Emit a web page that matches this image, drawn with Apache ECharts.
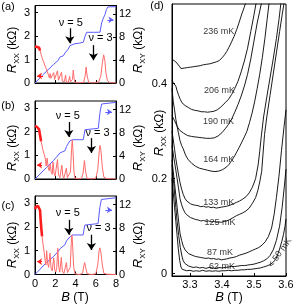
<!DOCTYPE html>
<html><head><meta charset="utf-8">
<script src="https://cdn.jsdelivr.net/npm/echarts@6/dist/echarts.min.js"></script>
<style>html,body{margin:0;padding:0;background:#fff}#c{width:299px;height:304px}</style>
</head><body><div id="c"></div><script>
// ---------- tick values ----------
const bTicks = [0, 2, 4, 6, 8];
const rxxTicks = [0, 1, 2, 3];
const rxyTicks = [0, 4, 8, 12];
const dXTicks = [3.3, 3.4, 3.5, 3.6];
const dYTicks = [0, 0.2, 0.4];

// ---------- panel (a) ----------
const rxxThickA = [[0,1.55],[0.1,1.56],[0.2,1.54],[0.3,1.55],[0.4,1.5],[0.5,1.38]];
const rxxA = [[0.5,1.38],[0.6,1.22],[0.7,1.08],[0.8,0.95],[0.9,0.85],[1.0,0.72],[1.1,0.62],[1.2,0.5],[1.3,0.38],[1.35,0.3],[1.42,0.22],[1.5,0.4],[1.56,0.2],[1.65,0.12],[1.75,0.18],[1.85,0.44],[1.93,0.15],[2.0,0.08],[2.1,0.1],[2.22,0.52],[2.32,0.12],[2.4,0.05],[2.5,0.06],[2.62,0.46],[2.7,0.08],[2.8,0.03],[2.9,0.05],[3.02,0.34],[3.1,0.04],[3.2,0.02],[3.3,0.04],[3.42,0.28],[3.5,0.05],[3.6,0.02],[3.7,0.15],[3.78,0.55],[3.86,0.2],[3.95,0.02],[4.2,0.0],[4.5,0.01],[4.8,0.03],[4.95,0.3],[5.05,0.68],[5.15,0.3],[5.3,0.03],[5.6,0.0],[6.0,0.01],[6.3,0.05],[6.5,0.3],[6.65,0.85],[6.78,1.2],[6.9,0.95],[7.0,0.45],[7.15,0.1],[7.4,0.01],[8,0.0]];
const rxyA = [[0,0],[0.79,1.45],[1.81,3.19],[2.3,3.95],[2.45,4.5],[2.63,4.65],[2.8,4.75],[2.96,5.23],[3.12,5.3],[3.29,5.92],[3.45,6.5],[3.62,6.67],[3.95,6.85],[4.4,6.95],[4.77,7.09],[4.94,8.13],[5.1,8.83],[5.8,8.83],[6.42,8.85],[6.58,10.45],[6.75,11.3],[6.91,11.9],[7.05,12.8],[7.2,13.25],[8,13.3]];

// ---------- panel (b) ----------
const rxxThickB = [[0,2.25],[0.1,2.28],[0.2,2.2],[0.3,2.25],[0.4,2.1],[0.5,1.85],[0.6,1.6]];
const rxxB = [[0.6,1.6],[0.7,1.4],[0.8,1.2],[0.9,1.05],[1.0,0.9],[1.05,0.75],[1.1,0.55],[1.2,0.88],[1.3,0.5],[1.4,0.35],[1.5,0.62],[1.6,0.3],[1.7,0.2],[1.78,0.72],[1.88,0.25],[1.98,0.12],[2.1,0.2],[2.22,0.82],[2.32,0.2],[2.45,0.06],[2.55,0.1],[2.65,0.58],[2.75,0.12],[2.85,0.03],[3.0,0.05],[3.1,0.46],[3.2,0.06],[3.35,0.03],[3.5,0.3],[3.62,1.3],[3.68,1.65],[3.75,1.2],[3.85,0.3],[3.95,0.03],[4.3,0.0],[4.6,0.02],[4.75,0.25],[4.88,0.78],[5.0,0.3],[5.15,0.02],[5.6,0.0],[6.0,0.03],[6.2,0.4],[6.35,1.2],[6.42,1.42],[6.5,1.25],[6.65,0.5],[6.8,0.08],[7.1,0.01],[8,0.0]];
const rxyB = [[0,0],[1.15,2.02],[1.81,3.17],[2.3,4.15],[2.45,4.5],[2.63,4.62],[2.96,4.9],[3.12,5.65],[3.3,6.2],[3.46,6.63],[3.71,6.8],[4.77,6.8],[4.94,8.53],[5.1,8.77],[6.25,8.77],[6.42,11.54],[6.58,12.98],[6.75,13.27],[8,13.27]];

// ---------- panel (c) ----------
const rxxThickC = [[0,2.75],[0.1,2.85],[0.2,2.9],[0.3,2.88],[0.4,2.9],[0.5,2.7],[0.55,2.35],[0.62,1.95],[0.7,1.6]];
const rxxC = [[0.7,1.6],[0.8,1.25],[0.9,0.95],[1.0,0.6],[1.07,0.4],[1.15,1.0],[1.25,0.45],[1.35,0.3],[1.48,0.9],[1.58,0.3],[1.7,0.15],[1.85,0.7],[1.95,0.2],[2.05,0.1],[2.15,0.3],[2.25,1.1],[2.35,0.3],[2.45,0.1],[2.52,0.15],[2.6,0.72],[2.7,0.15],[2.85,0.04],[3.0,0.1],[3.1,0.5],[3.2,0.08],[3.35,0.03],[3.48,0.3],[3.58,1.3],[3.65,1.66],[3.72,1.2],[3.82,0.3],[3.95,0.03],[4.4,0.0],[4.7,0.05],[4.82,0.35],[4.9,0.5],[5.0,0.3],[5.15,0.03],[5.6,0.0],[6.0,0.03],[6.2,0.4],[6.33,1.0],[6.4,1.12],[6.5,0.95],[6.65,0.4],[6.8,0.05],[7.1,0.01],[8,0.0]];
const rxyC = [[0,0],[1.14,2.08],[1.8,3.04],[2.29,3.96],[2.45,4.4],[2.62,4.53],[2.95,5.1],[3.11,5.78],[3.44,6.46],[3.7,6.8],[4.75,6.8],[4.92,8.5],[5.08,8.75],[6.23,8.75],[6.4,11.5],[6.56,12.9],[6.72,13.2],[8,13.2]];

// ---------- panel (d): R_XX vs B at several temperatures ----------
const tempNames = ['236 mK','206 mK','190 mK','164 mK','133 mK','125 mK','87 mK','62 mK','< 50 mK'];
const tempLabelAt = [[3.39,0.509],[3.392,0.385],[3.389,0.32],[3.39,0.24],[3.39,0.149],[3.394,0.107],[3.394,0.044],[3.4,0.015],[3.581,0.044]];
const c236 = [[3.244,0.452],[3.25,0.449],[3.256,0.446],[3.262,0.444],[3.267,0.437],[3.272,0.432],[3.277,0.43],[3.282,0.433],[3.287,0.431],[3.292,0.434],[3.297,0.432],[3.302,0.435],[3.307,0.433],[3.312,0.436],[3.317,0.434],[3.322,0.437],[3.327,0.436],[3.332,0.438],[3.337,0.437],[3.342,0.44],[3.347,0.438],[3.352,0.441],[3.357,0.44],[3.362,0.442],[3.367,0.441],[3.372,0.444],[3.377,0.443],[3.382,0.446],[3.387,0.447],[3.392,0.449],[3.397,0.452],[3.402,0.456],[3.408,0.461],[3.415,0.468],[3.422,0.477],[3.43,0.488],[3.438,0.5],[3.446,0.514],[3.454,0.53],[3.462,0.547],[3.469,0.56],[3.476,0.575]];
const c206 = [[3.244,0.408],[3.248,0.402],[3.252,0.398],[3.256,0.395],[3.26,0.385],[3.265,0.375],[3.27,0.367],[3.275,0.36],[3.28,0.356],[3.285,0.354],[3.29,0.351],[3.295,0.35],[3.30,0.348],[3.305,0.346],[3.31,0.347],[3.315,0.344],[3.32,0.345],[3.325,0.343],[3.33,0.344],[3.335,0.341],[3.34,0.343],[3.345,0.341],[3.35,0.342],[3.355,0.34],[3.36,0.342],[3.365,0.341],[3.37,0.343],[3.375,0.342],[3.38,0.344],[3.385,0.345],[3.39,0.347],[3.395,0.35],[3.40,0.353],[3.41,0.36],[3.42,0.367],[3.43,0.377],[3.44,0.39],[3.45,0.405],[3.46,0.425],[3.47,0.448],[3.48,0.475],[3.49,0.51],[3.50,0.545],[3.508,0.575]];
const c190 = [[3.244,0.333],[3.248,0.33],[3.252,0.322],[3.257,0.315],[3.262,0.308],[3.268,0.302],[3.274,0.298],[3.28,0.296],[3.286,0.293],[3.292,0.291],[3.298,0.29],[3.305,0.289],[3.31,0.287],[3.316,0.288],[3.322,0.286],[3.328,0.287],[3.334,0.285],[3.34,0.286],[3.346,0.284],[3.352,0.285],[3.358,0.283],[3.364,0.285],[3.37,0.284],[3.376,0.286],[3.382,0.287],[3.388,0.29],[3.394,0.293],[3.40,0.297],[3.41,0.305],[3.42,0.314],[3.43,0.325],[3.44,0.34],[3.45,0.356],[3.46,0.374],[3.47,0.395],[3.48,0.42],[3.49,0.452],[3.50,0.49],[3.51,0.528],[3.518,0.553],[3.525,0.575]];
const c164 = [[3.244,0.39],[3.248,0.362],[3.252,0.345],[3.256,0.325],[3.26,0.31],[3.264,0.297],[3.269,0.28],[3.274,0.27],[3.279,0.263],[3.285,0.252],[3.29,0.245],[3.295,0.24],[3.30,0.236],[3.306,0.232],[3.312,0.229],[3.318,0.226],[3.324,0.224],[3.33,0.222],[3.336,0.223],[3.342,0.22],[3.348,0.221],[3.354,0.218],[3.36,0.219],[3.366,0.216],[3.372,0.218],[3.378,0.215],[3.384,0.217],[3.39,0.216],[3.396,0.218],[3.402,0.219],[3.408,0.222],[3.415,0.225],[3.422,0.23],[3.43,0.238],[3.438,0.246],[3.446,0.256],[3.454,0.266],[3.462,0.277],[3.47,0.288],[3.478,0.3],[3.486,0.318],[3.494,0.338],[3.502,0.362],[3.51,0.39],[3.518,0.42],[3.526,0.455],[3.534,0.495],[3.541,0.535],[3.548,0.575]];
const c133 = [[3.244,0.30],[3.248,0.282],[3.252,0.262],[3.256,0.242],[3.26,0.226],[3.264,0.21],[3.269,0.192],[3.274,0.178],[3.279,0.167],[3.284,0.159],[3.29,0.153],[3.296,0.149],[3.302,0.147],[3.31,0.145],[3.318,0.144],[3.326,0.143],[3.334,0.141],[3.342,0.142],[3.35,0.14],[3.358,0.141],[3.366,0.139],[3.374,0.14],[3.382,0.138],[3.39,0.139],[3.398,0.14],[3.406,0.141],[3.415,0.142],[3.425,0.144],[3.435,0.147],[3.445,0.15],[3.455,0.153],[3.465,0.157],[3.475,0.162],[3.485,0.17],[3.495,0.182],[3.505,0.2],[3.513,0.229],[3.518,0.258],[3.523,0.29],[3.53,0.33],[3.54,0.372],[3.55,0.412],[3.56,0.452],[3.57,0.495],[3.578,0.535],[3.585,0.575]];
const c125 = [[3.244,0.27],[3.248,0.252],[3.252,0.235],[3.256,0.218],[3.26,0.2],[3.264,0.182],[3.269,0.158],[3.274,0.145],[3.279,0.136],[3.284,0.129],[3.29,0.124],[3.296,0.12],[3.302,0.118],[3.31,0.116],[3.318,0.114],[3.326,0.113],[3.334,0.111],[3.342,0.112],[3.35,0.11],[3.358,0.111],[3.366,0.109],[3.374,0.11],[3.382,0.108],[3.39,0.109],[3.398,0.108],[3.406,0.11],[3.415,0.111],[3.425,0.114],[3.435,0.118],[3.445,0.122],[3.455,0.125],[3.465,0.128],[3.475,0.132],[3.485,0.138],[3.495,0.148],[3.505,0.16],[3.512,0.175],[3.518,0.193],[3.524,0.215],[3.528,0.25],[3.533,0.293],[3.54,0.33],[3.55,0.375],[3.56,0.42],[3.57,0.465],[3.58,0.51],[3.588,0.545],[3.595,0.575]];
const c87 = [[3.244,0.24],[3.248,0.215],[3.252,0.19],[3.256,0.165],[3.26,0.14],[3.264,0.115],[3.269,0.085],[3.274,0.07],[3.279,0.058],[3.285,0.05],[3.29,0.046],[3.296,0.042],[3.302,0.04],[3.31,0.038],[3.318,0.036],[3.326,0.035],[3.334,0.034],[3.342,0.033],[3.35,0.032],[3.358,0.033],[3.366,0.031],[3.374,0.032],[3.382,0.03],[3.39,0.031],[3.398,0.029],[3.406,0.03],[3.415,0.031],[3.425,0.033],[3.435,0.034],[3.445,0.036],[3.455,0.039],[3.465,0.041],[3.475,0.043],[3.485,0.046],[3.495,0.049],[3.505,0.052],[3.515,0.055],[3.525,0.06],[3.535,0.067],[3.545,0.078],[3.555,0.096],[3.563,0.125],[3.57,0.16],[3.578,0.205],[3.586,0.26],[3.594,0.31],[3.6,0.345]];
const c62 = [[3.244,0.23],[3.248,0.2],[3.252,0.17],[3.256,0.14],[3.26,0.11],[3.265,0.08],[3.27,0.055],[3.275,0.037],[3.279,0.027],[3.285,0.021],[3.29,0.018],[3.296,0.016],[3.302,0.015],[3.31,0.013],[3.32,0.014],[3.33,0.012],[3.34,0.013],[3.35,0.011],[3.36,0.013],[3.37,0.012],[3.38,0.011],[3.39,0.013],[3.40,0.012],[3.41,0.013],[3.42,0.014],[3.43,0.015],[3.44,0.015],[3.45,0.016],[3.46,0.017],[3.47,0.017],[3.48,0.018],[3.49,0.019],[3.5,0.02],[3.51,0.022],[3.52,0.024],[3.53,0.027],[3.54,0.031],[3.55,0.038],[3.56,0.05],[3.57,0.07],[3.58,0.1],[3.588,0.14],[3.595,0.185],[3.6,0.22]];
const c50 = [[3.244,0.2],[3.248,0.17],[3.252,0.14],[3.256,0.11],[3.26,0.08],[3.264,0.05],[3.268,0.028],[3.272,0.014],[3.276,0.009],[3.282,0.007],[3.29,0.006],[3.3,0.007],[3.31,0.005],[3.32,0.006],[3.33,0.005],[3.34,0.007],[3.35,0.005],[3.36,0.006],[3.37,0.005],[3.38,0.006],[3.39,0.005],[3.40,0.006],[3.41,0.006],[3.42,0.007],[3.43,0.006],[3.44,0.007],[3.45,0.007],[3.46,0.008],[3.47,0.008],[3.48,0.009],[3.49,0.009],[3.5,0.01],[3.51,0.011],[3.52,0.012],[3.53,0.014],[3.54,0.016],[3.55,0.019],[3.56,0.024],[3.568,0.03],[3.575,0.042],[3.581,0.054],[3.587,0.068],[3.592,0.082],[3.597,0.1],[3.6,0.115]];
const tempCurves = [c236, c206, c190, c164, c133, c125, c87, c62, c50];

// ---------- annotations (data coordinates) ----------
const nuArrows = [
  [[3.44,2.33,1.69],[5.77,1.61,0.97]],
  [[3.34,2.41,1.78],[5.57,1.73,1.10]],
  [[3.34,2.30,1.67],[5.57,1.67,1.03]]
];
const nuLabels = [
  [[3.54,2.56,'ν = 5'],[6.48,1.9,'ν = 3']],
  [[3.24,2.66,'ν = 5'],[6.18,1.95,'ν = 3']],
  [[3.24,2.60,'ν = 5'],[6.28,1.96,'ν = 3']]
];
const redArrow = [[0.8,0.2,0.30],[0.7,0.2,0.59],[0.7,0.2,0.54]];
const blueArrow = [[7.15,7.75,11.0],[6.95,7.6,11.6],[6.95,7.6,11.1]];

const FONT = "'Liberation Sans', Arial, Helvetica, sans-serif";
const RED_THIN = '#ff6a6a', RED_THICK = '#ff1c1c', BLUE = '#5b5bff';

const grids = [
  {left:35, top:5.5, width:81, height:77.5},
  {left:35, top:101, width:81, height:78},
  {left:35, top:196, width:81, height:78.5},
  {left:172, top:4, width:114, height:272}
].map(g => Object.assign({show:true, borderColor:'#000', borderWidth:1, backgroundColor:'transparent'}, g));

function axLine(){ return {show:true, onZero:false, lineStyle:{color:'#000', width:1}}; }
function tick(vals){ return {show:true, inside:true, length:3, customValues:vals, lineStyle:{color:'#000', width:1}}; }
function lab(vals, show, margin){ return {show:show, customValues:vals, margin:margin, color:'#000', fontSize:11, fontFamily:FONT}; }

const xAxis = [0,1,2].map(i => ({type:'value', gridIndex:i, min:0, max:8, axisLine:axLine(), axisTick:tick(bTicks), axisLabel:lab(bTicks, i===2, 4), splitLine:{show:false}}));
xAxis.push({type:'value', gridIndex:3, min:3.244, max:3.6, axisLine:axLine(), axisTick:tick(dXTicks), axisLabel:lab(dXTicks, true, 3), splitLine:{show:false}});

const yAxis = [];
[0,1,2].forEach(i => yAxis.push({type:'value', gridIndex:i, position:'left', min:0, max:3.3, axisLine:axLine(), axisTick:tick(rxxTicks), axisLabel:lab(rxxTicks, true, 5), splitLine:{show:false}}));
[0,1,2].forEach(i => yAxis.push({type:'value', gridIndex:i, position:'right', min:0, max:13.5, axisLine:axLine(), axisTick:tick(rxyTicks), axisLabel:lab(rxyTicks, true, 3), splitLine:{show:false}}));
yAxis.push({type:'value', gridIndex:3, position:'left', min:-0.005, max:0.568, axisLine:axLine(), axisTick:tick(dYTicks), axisLabel:lab(dYTicks, true, 5), splitLine:{show:false}});

function lineS(data, xi, yi, color, w, extra){
  return Object.assign({type:'line', xAxisIndex:xi, yAxisIndex:yi, data:data, symbol:'none', showSymbol:false, silent:true, animation:false, clip:true,
    lineStyle:{color:color, width:w}, itemStyle:{color:color}}, extra||{});
}
function arrowML(pairs, color, w, size){
  return {silent:true, symbol:['none','arrow'], symbolSize:size, animation:false, label:{show:false},
    lineStyle:{color:color, width:w, type:'solid'}, itemStyle:{color:color},
    emphasis:{disabled:true},
    data:pairs.map(p => [{coord:p[0], symbol:'none'},{coord:p[1], symbol:'arrow', symbolSize:size}])};
}

const series = [];
const rxxThin = [rxxA, rxxB, rxxC], rxxThick = [rxxThickA, rxxThickB, rxxThickC], rxy = [rxyA, rxyB, rxyC];
for (let i = 0; i < 3; i++) {
  series.push(lineS(rxy[i], i, 3+i, BLUE, 1, {
    markLine: arrowML([[[blueArrow[i][0], blueArrow[i][2]],[blueArrow[i][1], blueArrow[i][2]]]], BLUE, 1, 5)
  }));
  series.push(lineS(rxxThin[i], i, i, RED_THIN, 1, {
    markLine: arrowML([[[redArrow[i][0], redArrow[i][2]],[redArrow[i][1], redArrow[i][2]]]], RED_THICK, 1, 5)
  }));
  series.push(lineS(rxxThick[i], i, i, RED_THICK, 2.6, {
    markLine: arrowML(nuArrows[i].map(a => [[a[0], a[1]],[a[0], a[2]]]), '#000', 1.3, 7),
    markPoint:{silent:true, symbol:'circle', symbolSize:1, animation:false, itemStyle:{color:'rgba(0,0,0,0)'},
      label:{show:true, position:'inside', formatter:'{b}', color:'#000', fontSize:11, fontFamily:FONT},
      data:nuLabels[i].map(l => ({name:l[2], coord:[l[0], l[1]]}))}
  }));
}
tempCurves.forEach(c => series.push(lineS(c, 3, 6, '#000', 0.9)));
series.push({type:'scatter', xAxisIndex:3, yAxisIndex:6, silent:true, animation:false, symbolSize:1, itemStyle:{color:'rgba(0,0,0,0)'},
  data: tempNames.map((n, k) => ({name:n, value:tempLabelAt[k],
    label:{show:true, position:'inside', formatter:'{b}', color:'#000', fontSize:9, fontFamily:FONT, rotate: k === 8 ? 55 : 0}}))
});

function txt(x, y, text, rot, rich, size){
  return {type:'text', x:x, y:y, rotation:rot||0, silent:true,
    style:{text:text, fill:'#000', font:(size||11)+'px ' + FONT, align:'center', verticalAlign:'middle', textAlign:'center', textVerticalAlign:'middle', rich:rich}};
}
const richY = {
  i:{fontStyle:'italic', fontSize:13, fontFamily:FONT, color:'#000', lineHeight:15, verticalAlign:'bottom'},
  s:{fontSize:8, fontFamily:FONT, color:'#000', lineHeight:15, verticalAlign:'bottom', padding:[0,0,-2,0]},
  n:{fontSize:12, fontFamily:FONT, color:'#000', lineHeight:15, verticalAlign:'bottom'}
};
const graphic = [
  txt(8, 6.5, '(a)', 0, null, 11), txt(8, 106, '(b)', 0, null, 11), txt(8, 206, '(c)', 0, null, 11), txt(157, 6, '(d)', 0, null, 11),
  txt(11, 50, '{i|R}{s|XX}{n| (kΩ)}', Math.PI/2, richY), txt(137, 50, '{i|R}{s|XY}{n| (kΩ)}', Math.PI/2, richY),
  txt(11, 148, '{i|R}{s|XX}{n| (kΩ)}', Math.PI/2, richY), txt(137, 148, '{i|R}{s|XY}{n| (kΩ)}', Math.PI/2, richY),
  txt(11, 245, '{i|R}{s|XX}{n| (kΩ)}', Math.PI/2, richY), txt(137, 245, '{i|R}{s|XY}{n| (kΩ)}', Math.PI/2, richY),
  txt(158, 133, '{i|R}{s|XX}{n| (kΩ)}', Math.PI/2, richY),
  txt(75, 296, '{i|B}{n| (T)}', 0, richY), txt(229, 296, '{i|B}{n| (T)}', 0, richY)
];

const chart = echarts.init(document.getElementById('c'), null, {renderer:'canvas'});
chart.setOption({animation:false, backgroundColor:'#fff', textStyle:{fontFamily:FONT}, grid:grids, xAxis:xAxis, yAxis:yAxis, series:series, graphic:graphic});
</script></body></html>
